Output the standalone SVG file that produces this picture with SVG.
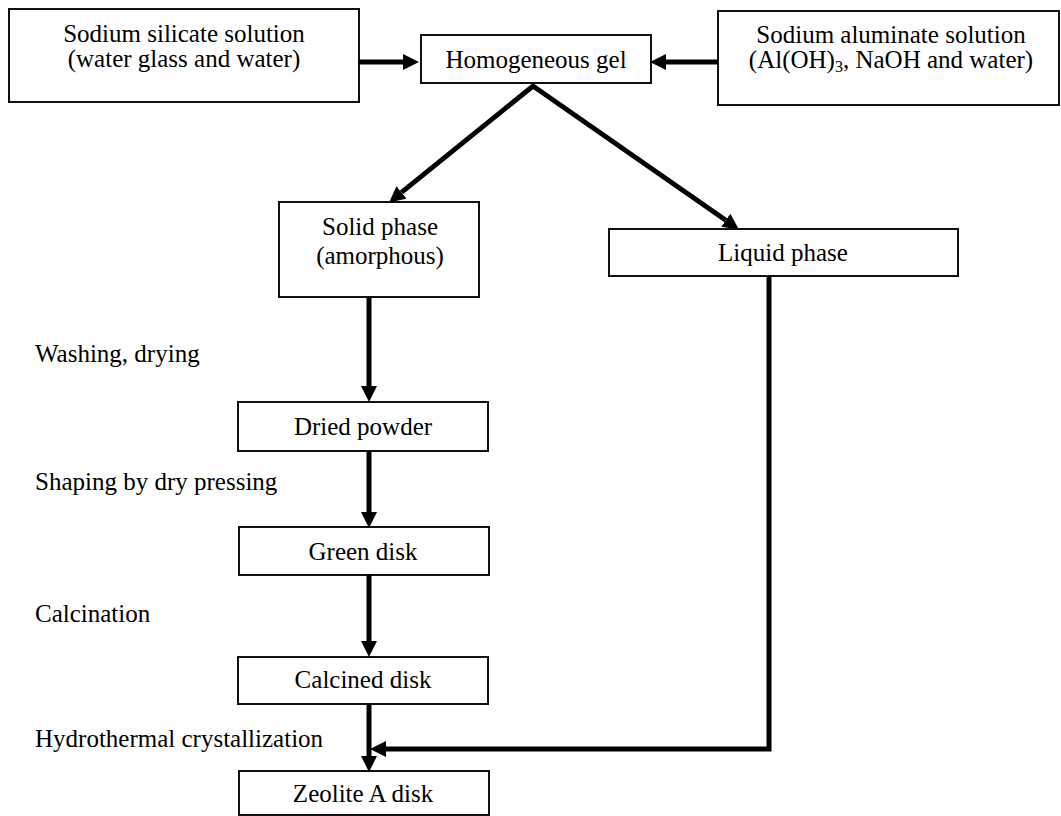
<svg xmlns="http://www.w3.org/2000/svg" width="1061" height="816" viewBox="0 0 1061 816">
<style>
  .box { fill: #ffffff; stroke: #111111; stroke-width: 2; }
  .t { font-family: "Liberation Serif", "Times New Roman", serif; font-size: 25px; fill: #000000; }
  .c { text-anchor: middle; }
  .conn { fill: none; stroke: #000000; stroke-width: 5; stroke-linejoin: miter; }
</style>
<defs>
  <marker id="ah" markerUnits="userSpaceOnUse" markerWidth="16" markerHeight="16" viewBox="0 0 15 15" refX="0" refY="7.5" orient="auto-start-reverse">
    <path d="M0,0 L15,7.5 L0,15 z" fill="#000000"/>
  </marker>
</defs>

<g id="n-silicate">
  <rect class="box" x="9" y="9" width="350" height="93"/>
  <text class="t c" x="184" y="42">Sodium silicate solution</text>
  <text class="t c" x="184" y="67">(water glass and water)</text>
</g>
<g id="n-gel">
  <rect class="box" x="421" y="35" width="230" height="48"/>
  <text class="t c" x="536" y="68">Homogeneous gel</text>
</g>
<g id="n-aluminate">
  <rect class="box" x="718" y="11" width="341" height="94"/>
  <text class="t c" x="891" y="43">Sodium aluminate solution</text>
  <text class="t c" x="891" y="68">(Al(OH)<tspan font-size="16" dy="4">3</tspan><tspan dy="-4">, NaOH and water)</tspan></text>
</g>
<g id="n-solid">
  <rect class="box" x="279" y="202" width="200" height="95"/>
  <text class="t c" x="380" y="235">Solid phase</text>
  <text class="t c" x="380" y="264">(amorphous)</text>
</g>
<g id="n-liquid">
  <rect class="box" x="609" y="229" width="349" height="47"/>
  <text class="t c" x="783" y="261">Liquid phase</text>
</g>
<g id="n-dried">
  <rect class="box" x="238" y="402" width="250" height="49"/>
  <text class="t c" x="363" y="435">Dried powder</text>
</g>
<g id="n-green">
  <rect class="box" x="239" y="527" width="250" height="48"/>
  <text class="t c" x="363" y="560">Green disk</text>
</g>
<g id="n-calcined">
  <rect class="box" x="238" y="657" width="250" height="47"/>
  <text class="t c" x="363" y="688">Calcined disk</text>
</g>
<g id="n-zeolite">
  <rect class="box" x="239" y="771" width="250" height="44"/>
  <text class="t c" x="363" y="802">Zeolite A disk</text>
</g>

<g id="labels">
  <text class="t" x="35" y="362">Washing, drying</text>
  <text class="t" x="35" y="490">Shaping by dry pressing</text>
  <text class="t" x="35" y="622">Calcination</text>
  <text class="t" x="35" y="747">Hydrothermal crystallization</text>
</g>

<g id="connectors">
  <line class="conn" x1="359" y1="62" x2="403" y2="62" marker-end="url(#ah)"/>
  <line class="conn" x1="718" y1="62" x2="666" y2="62" marker-end="url(#ah)"/>
  <path class="conn" d="M401.5,192.4 L533,86 L725.8,220.3" marker-start="url(#ah)" marker-end="url(#ah)"/>
  <line class="conn" x1="369" y1="297" x2="369" y2="386" marker-end="url(#ah)"/>
  <line class="conn" x1="369" y1="451" x2="369" y2="512" marker-end="url(#ah)"/>
  <line class="conn" x1="369" y1="575" x2="369" y2="641" marker-end="url(#ah)"/>
  <line class="conn" x1="369" y1="704" x2="369" y2="756" marker-end="url(#ah)"/>
  <path class="conn" d="M769,276 L769,749 L386,749" marker-end="url(#ah)"/>
</g>
</svg>
